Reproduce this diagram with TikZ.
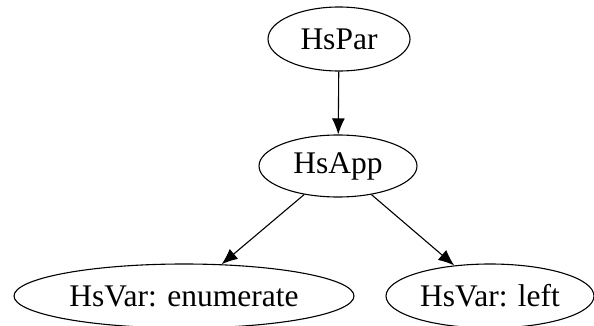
\documentclass[tikz,border=0pt]{standalone}
\usepackage{fontspec}
\setmainfont{Liberation Serif}
\usepackage{tikz}
\usetikzlibrary{positioning,arrows.meta,shapes.geometric}

\begin{document}
\begin{tikzpicture}[x=1pt,y=1pt,>={Latex[length=16pt,width=13pt]},
    every node/.style={draw,ellipse,inner sep=0pt,line width=1.1pt,font=\fontsize{31.5}{36}\selectfont},
    every path/.style={line width=1.1pt}]
    \useasboundingbox (0,0) rectangle (594,325);
    \node[minimum width=142pt,minimum height=64pt] (par) at (339,286) {HsPar};
    \node[minimum width=158pt,minimum height=62pt] (app) at (338,159) {HsApp};
    \node[minimum width=340pt,minimum height=64pt] (enum) at (184,29) {HsVar: enumerate};
    \node[minimum width=208pt,minimum height=64pt] (left) at (490,29) {HsVar: left};
    \draw[->] (par) -- (app);
    \draw[->] (app) -- (enum);
    \draw[->] (app) -- (left);
  \end{tikzpicture}
\end{document}
